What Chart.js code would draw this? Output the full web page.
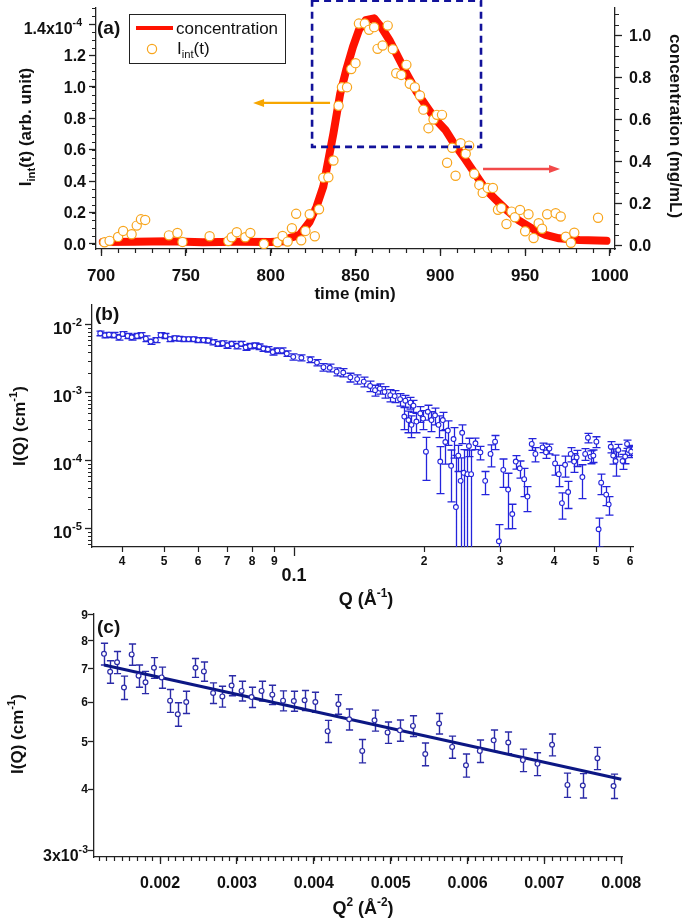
<!DOCTYPE html>
<html>
<head>
<meta charset="utf-8">
<script src="https://cdn.jsdelivr.net/npm/chart.js@4.4.1/dist/chart.umd.min.js"></script>
<style>
  body { margin: 0; background: #fff; overflow: hidden; }
  #wrap { position: relative; width: 685px; height: 920px; }
  #wrap canvas { position: absolute; left: 0; top: 0; }
</style>
</head>
<body>
<div id="wrap">
  <canvas id="chartA" width="685" height="920"></canvas>
  <canvas id="chartB" width="685" height="920"></canvas>
  <canvas id="chartC" width="685" height="920"></canvas>
</div>
<script>
// ---------- panel (a): elution profile ----------
const iintTime = [702, 705, 710, 713, 718, 721, 723.5, 726, 740, 745, 748, 764, 775, 777, 780, 785, 788, 796, 804, 807,
  810, 812.5, 815, 818, 820.5, 823, 826, 828.5, 831, 834, 837, 840, 842, 845, 847.5, 850, 852, 855.5, 858, 861,
  863, 866, 869, 872, 874, 877, 880, 882, 885, 888, 890, 893, 896, 898, 901, 904, 907, 909, 912, 915,
  917, 920, 923, 925, 928, 931, 934, 936, 939, 942, 944, 947, 950, 952, 955, 958, 960, 963, 968, 971,
  974, 977, 979, 993];
// Iint(t) in units of 1e-4 (arb. unit)
const iintValue = [0.011, 0.02, 0.045, 0.083, 0.062, 0.117, 0.157, 0.153, 0.055, 0.07, 0.013, 0.049, 0.019, 0.043, 0.075, 0.043, 0.07, 0.0, 0.011, 0.051,
  0.015, 0.1, 0.192, 0.023, 0.083, 0.189, 0.049, 0.221, 0.422, 0.425, 0.531, 0.88, 0.998, 0.998, 1.113, 1.151, 1.403, 1.403, 1.363, 1.38,
  1.242, 1.263, 1.39, 1.24, 1.087, 1.076, 1.14, 1.02, 0.998, 0.945, 0.855, 0.737, 0.792, 0.822, 0.822, 0.517, 0.612, 0.434, 0.641, 0.575,
  0.626, 0.447, 0.376, 0.325, 0.357, 0.357, 0.218, 0.229, 0.127, 0.206, 0.17, 0.217, 0.081, 0.189, 0.038, 0.132, 0.097, 0.189, 0.196, 0.175,
  0.046, 0.008, 0.072, 0.167];
const concTime = [701, 720, 740, 760, 780, 800, 808, 811, 817, 823, 827, 831, 834, 837, 841, 844.5, 848.5, 852, 856, 861,
  865, 870, 874, 880, 886, 892, 897.5, 903, 908, 915, 921, 927, 933, 939, 946, 954, 962, 970, 982, 998];
// concentration in mg/mL
const concValue = [0.014, 0.016, 0.018, 0.013, 0.015, 0.014, 0.018, 0.033, 0.048, 0.111, 0.182, 0.278, 0.405, 0.532, 0.722, 0.833, 0.944, 1.024, 1.071, 1.08,
  1.04, 0.976, 0.913, 0.818, 0.73, 0.659, 0.595, 0.548, 0.484, 0.405, 0.333, 0.262, 0.214, 0.167, 0.119, 0.079, 0.048, 0.032, 0.024, 0.02];
const aTimeTicks = [700, 750, 800, 850, 900, 950, 1000];
const aLeftTicks = [0, 0.2, 0.4, 0.6, 0.8, 1.0, 1.2, 1.4];
const aLeftLabels = ['0.0', '0.2', '0.4', '0.6', '0.8', '1.0', '1.2', '1.4x10'];
const aRightTicks = [0, 0.2, 0.4, 0.6, 0.8, 1.0];
const aRightLabels = ['0.0', '0.2', '0.4', '0.6', '0.8', '1.0'];

// annotations of panel (a), in data units
const zoomBox = { t0: 824.4, t1: 924.0, lo: 0.618, hi: 1.548 };
const orangeArrow = { from: 835, to: 789.6, level: 0.898 };   // on the Iint axis
const redArrow = { from: 925.2, to: 970.6, level: 0.362 };     // on the concentration axis

// ---------- panel (b): I(Q) ----------
const bQ = [0.0356, 0.0365, 0.0373, 0.0383, 0.0393, 0.0401, 0.0412, 0.0421, 0.0433, 0.0443,
  0.0454, 0.0466, 0.0479, 0.0491, 0.0504, 0.0516, 0.0530, 0.0542, 0.0556, 0.0570,
  0.0585, 0.0600, 0.0617, 0.0633, 0.0650, 0.0666, 0.0684, 0.0701, 0.0717, 0.0737,
  0.0754, 0.0773, 0.0791, 0.0811, 0.0831, 0.0849, 0.0870, 0.0893, 0.0915, 0.0938,
  0.0962, 0.0996, 0.104, 0.109, 0.113, 0.117, 0.121, 0.1255, 0.130, 0.135,
  0.140, 0.145, 0.150, 0.154, 0.158, 0.162, 0.167, 0.171, 0.176, 0.180,
  0.181, 0.184, 0.186, 0.187, 0.189, 0.192, 0.196, 0.199, 0.202, 0.204,
  0.208, 0.212, 0.216, 0.218, 0.221, 0.224, 0.227, 0.231, 0.234, 0.237,
  0.240, 0.243, 0.245, 0.247, 0.252, 0.254, 0.257, 0.263, 0.270, 0.277,
  0.285, 0.292, 0.298, 0.305, 0.313, 0.320, 0.326, 0.333, 0.341, 0.347,
  0.355, 0.362, 0.376, 0.383, 0.390, 0.402, 0.410, 0.417, 0.424, 0.431,
  0.437, 0.445, 0.451, 0.465, 0.472, 0.479, 0.486, 0.493, 0.501, 0.507,
  0.514, 0.528, 0.535, 0.541, 0.548, 0.555, 0.563, 0.576, 0.584, 0.590,
  0.595, 0.603];
const bI = [7.55e-3, 7.06e-3, 7.2e-3, 7.1e-3, 6.6e-3, 7.4e-3, 6.9e-3, 6.6e-3, 6.9e-3, 7.1e-3,
  6.3e-3, 5.7e-3, 6.0e-3, 7.1e-3, 6.9e-3, 6.2e-3, 6.4e-3, 6.3e-3, 6.2e-3, 6.2e-3,
  6.2e-3, 6.0e-3, 6.0e-3, 5.9e-3, 5.6e-3, 5.3e-3, 5.4e-3, 5.0e-3, 5.3e-3, 4.9e-3,
  5.3e-3, 4.7e-3, 4.9e-3, 5.0e-3, 4.8e-3, 4.5e-3, 4.4e-3, 4.0e-3, 4.2e-3, 4.2e-3,
  3.8e-3, 3.4e-3, 3.3e-3, 3.1e-3, 2.8e-3, 2.4e-3, 2.35e-3, 2.06e-3, 2.0e-3, 1.7e-3,
  1.6e-3, 1.47e-3, 1.27e-3, 1.1e-3, 1.16e-3, 1.04e-3, 9.3e-4, 9.0e-4, 8.1e-4, 4.5e-4,
  7.7e-4, 4.0e-4, 7.2e-4, 3.4e-4, 6.5e-4, 3.8e-4, 5.0e-4, 4.2e-4, 1.37e-4, 5.3e-4,
  4.0e-4, 4.7e-4, 3.4e-4, 9.8e-5, 4.0e-4, 1.9e-4, 2.8e-4, 8.5e-5, 2.1e-4, 2.1e-5,
  1.2e-4, 5.1e-5, 2.6e-4, 6.7e-5, 6.4e-5, 1.66e-4, 6.4e-5, 1.82e-4, 1.34e-4, 5.1e-5,
  1.27e-4, 1.92e-4, 6.6e-6, 7.4e-5, 3.8e-5, 1.66e-5, 9.8e-5, 7.8e-5, 5.4e-5, 3.0e-5,
  1.78e-4, 1.27e-4, 1.58e-4, 1.34e-4, 1.52e-4, 9.2e-5, 6.4e-5, 2.4e-5, 8.8e-5, 3.5e-5,
  1.27e-4, 9.8e-5, 1.13e-4, 5.8e-5, 1.27e-4, 2.2e-4, 1.16e-4, 1.2e-4, 1.92e-4, 9.9e-6,
  4.8e-5, 3.2e-5, 2.3e-5, 1.62e-4, 1.2e-4, 1.0e-4, 1.45e-4, 1.0e-4, 1.16e-4, 1.78e-4,
  1.45e-4, 1.37e-4];
const bErr = [6.0e-4, 6.0e-4, 6.0e-4, 6.5e-4, 6.0e-4, 6.0e-4, 6.0e-4, 6.0e-4, 6.0e-4, 6.0e-4,
  6.0e-4, 5.0e-4, 5.0e-4, 6.0e-4, 6.0e-4, 5.0e-4, 5.0e-4, 5.0e-4, 5.0e-4, 5.0e-4,
  5.0e-4, 5.0e-4, 5.0e-4, 5.0e-4, 5.0e-4, 4.5e-4, 4.5e-4, 4.5e-4, 4.5e-4, 4.5e-4,
  4.5e-4, 4.5e-4, 4.5e-4, 4.5e-4, 4.5e-4, 4.0e-4, 4.0e-4, 4.0e-4, 4.0e-4, 4.0e-4,
  3.5e-4, 3.5e-4, 3.3e-4, 3.0e-4, 3.0e-4, 3.0e-4, 3.0e-4, 2.8e-4, 2.8e-4, 2.5e-4,
  2.5e-4, 2.4e-4, 2.2e-4, 2.0e-4, 2.0e-4, 2.0e-4, 1.9e-4, 1.8e-4, 1.7e-4, 1.6e-4,
  1.5e-4, 1.4e-4, 1.4e-4, 1.2e-4, 1.3e-4, 1.2e-4, 1.3e-4, 1.3e-4, 8.5e-5, 1.3e-4,
  1.3e-4, 1.3e-4, 1.2e-4, 6.5e-5, 1.2e-4, 1.0e-4, 1.1e-4, 6.0e-5, 1.0e-4, 1.0e-4,
  5.0e-5, 6.0e-5, 8.0e-5, 8.0e-5, 8.0e-5, 5.0e-5, 8.0e-5, 3.5e-5, 3.0e-5, 1.9e-5,
  4.5e-5, 4.5e-5, 5.0e-6, 3.3e-5, 2.8e-5, 6.5e-6, 2.2e-5, 2.2e-5, 2.4e-5, 1.2e-5,
  3.5e-5, 3.0e-5, 2.5e-5, 2.5e-5, 2.5e-5, 3.0e-5, 2.2e-5, 1.0e-5, 3.0e-5, 1.5e-5,
  3.0e-5, 3.0e-5, 3.0e-5, 3.0e-5, 2.5e-5, 3.5e-5, 2.5e-5, 2.5e-5, 3.5e-5, 4.5e-6,
  1.6e-5, 1.0e-5, 7.0e-6, 3.0e-5, 3.0e-5, 4.0e-5, 3.0e-5, 2.5e-5, 2.5e-5, 2.5e-5,
  2.5e-5, 2.5e-5];
const bQTicks = [0.04, 0.05, 0.06, 0.07, 0.08, 0.09, 0.1, 0.2, 0.3, 0.4, 0.5, 0.6];
const bQLabels = ['4', '5', '6', '7', '8', '9', '0.1', '2', '3', '4', '5', '6'];
const bIDecades = [1e-2, 1e-3, 1e-4, 1e-5];
const bIExponents = ['-2', '-3', '-4', '-5'];

// ---------- panel (c): Guinier plot ----------
const cQ2 = [0.00127, 0.00135, 0.00144, 0.00153, 0.00163, 0.00172, 0.00181, 0.00192, 0.00202, 0.00213,
  0.00223, 0.00234, 0.00246, 0.00257, 0.00269, 0.00281, 0.00293, 0.00306, 0.00319, 0.00332,
  0.00346, 0.00360, 0.00374, 0.00388, 0.00402, 0.00418, 0.00432, 0.00446, 0.00463, 0.00479,
  0.00496, 0.00512, 0.00529, 0.00545, 0.00563, 0.00580, 0.00598, 0.00616, 0.00634, 0.00653,
  0.00672, 0.00691, 0.00710, 0.00730, 0.00750, 0.00769, 0.00790];
const cI = [7.51e-3, 6.91e-3, 7.22e-3, 6.42e-3, 7.49e-3, 6.78e-3, 6.58e-3, 7.04e-3, 6.73e-3, 6.04e-3,
  5.67e-3, 6.00e-3, 7.04e-3, 6.92e-3, 6.26e-3, 6.16e-3, 6.48e-3, 6.32e-3, 6.14e-3, 6.32e-3,
  6.21e-3, 6.04e-3, 6.03e-3, 6.05e-3, 6.00e-3, 5.24e-3, 5.94e-3, 5.54e-3, 4.78e-3, 5.51e-3,
  5.21e-3, 5.26e-3, 5.37e-3, 4.71e-3, 5.43e-3, 4.87e-3, 4.47e-3, 4.78e-3, 5.02e-3, 4.97e-3,
  4.58e-3, 4.50e-3, 4.92e-3, 4.08e-3, 4.07e-3, 4.62e-3, 4.06e-3];
const cErr = [3.8e-4, 3.6e-4, 3.7e-4, 3.5e-4, 3.7e-4, 3.5e-4, 3.4e-4, 3.4e-4, 3.3e-4, 3.2e-4,
  3.1e-4, 3.1e-4, 3.1e-4, 3.1e-4, 3.0e-4, 3.0e-4, 3.0e-4, 2.9e-4, 2.9e-4, 2.9e-4,
  2.8e-4, 2.8e-4, 2.8e-4, 2.8e-4, 2.8e-4, 2.7e-4, 2.7e-4, 2.7e-4, 2.6e-4, 2.7e-4,
  2.6e-4, 2.6e-4, 2.6e-4, 2.5e-4, 2.6e-4, 2.5e-4, 2.4e-4, 2.5e-4, 2.5e-4, 2.5e-4,
  2.4e-4, 2.4e-4, 2.5e-4, 2.3e-4, 2.3e-4, 2.4e-4, 2.3e-4];
const cFitQ2 = [0.00127, 0.0080];
const cFitI = [7.13e-3, 4.19e-3];
const cQ2Ticks = [0.002, 0.003, 0.004, 0.005, 0.006, 0.007, 0.008];
const cITicks = [3e-3, 4e-3, 5e-3, 6e-3, 7e-3, 8e-3, 9e-3];
const cILabels = ['3x10', '4', '5', '6', '7', '8', '9'];

// ---------- shared helpers ----------
const FONT = '"Liberation Sans", Arial, Helvetica, sans-serif';
const INK = '#111';
const AXIS = '#222';

// segments: [text, 'sup' | 'sub' | undefined]
function drawRich(ctx, segs, x, y, size, align, weight) {
  weight = weight || 'bold';
  const parts = segs.map(s => {
    const kind = s[1] || '';
    const fs = kind ? size * 0.66 : size;
    ctx.font = weight + ' ' + fs + 'px ' + FONT;
    return { text: s[0], kind: kind, fs: fs, w: ctx.measureText(s[0]).width };
  });
  const total = parts.reduce((a, p) => a + p.w, 0);
  let cx = align === 'right' ? x - total : (align === 'center' ? x - total / 2 : x);
  const base = y + size * 0.36;
  ctx.fillStyle = INK;
  ctx.textAlign = 'left';
  ctx.textBaseline = 'alphabetic';
  parts.forEach(p => {
    ctx.font = weight + ' ' + p.fs + 'px ' + FONT;
    let by = base;
    if (p.kind === 'sup') by = base - size * 0.48;
    if (p.kind === 'sub') by = base + size * 0.22;
    ctx.fillText(p.text, cx, by);
    cx += p.w;
  });
}

function drawRotated(ctx, segs, x, y, size, angle) {
  ctx.save();
  ctx.translate(x, y);
  ctx.rotate(angle);
  drawRich(ctx, segs, 0, 0, size, 'center');
  ctx.restore();
}

// minor tick marks on an axis, placed by the scale
function minorTicks(ctx, scale, values, len) {
  const area = scale.chart.chartArea;
  ctx.save();
  ctx.strokeStyle = AXIS;
  ctx.lineWidth = 1.2;
  ctx.beginPath();
  values.forEach(v => {
    if (v < scale.min || v > scale.max) return;
    const p = Math.round(scale.getPixelForValue(v)) + 0.5;
    if (scale.position === 'bottom') { ctx.moveTo(p, area.bottom); ctx.lineTo(p, area.bottom + len); }
    else if (scale.position === 'left') { ctx.moveTo(area.left - len, p); ctx.lineTo(area.left, p); }
    else { ctx.moveTo(area.right, p); ctx.lineTo(area.right + len, p); }
  });
  ctx.stroke();
  ctx.restore();
}

function axis(opts) {
  const ticks = opts.ticks;
  return Object.assign({
    grid: { display: true, drawOnChartArea: false, drawTicks: true, tickLength: opts.len || 7, tickColor: AXIS, tickWidth: 1.3 },
    border: { display: true, color: AXIS, width: 1.3 },
    ticks: { display: false },
    afterBuildTicks: s => { s.ticks = ticks.map(v => ({ value: v })); },
    afterFit: s => { if (s.isHorizontal()) s.height = 0; else s.width = 0; }
  }, opts.extra);
}

const errorBars = {
  id: 'errorBars',
  beforeDatasetsDraw(chart) {
    const { ctx, chartArea } = chart;
    chart.data.datasets.forEach((ds, i) => {
      if (!ds.errors) return;
      const meta = chart.getDatasetMeta(i);
      const ys = chart.scales[meta.yAxisID];
      ctx.save();
      ctx.beginPath();
      ctx.rect(chartArea.left, chartArea.top, chartArea.right - chartArea.left, chartArea.bottom - chartArea.top);
      ctx.clip();
      ctx.strokeStyle = ds.borderColor;
      ctx.lineWidth = ds.errorWidth || 1.3;
      const cap = ds.capHalf || 4;
      ctx.beginPath();
      meta.data.forEach((pt, j) => {
        const v = ds.data[j].y, e = ds.errors[j];
        const top = ys.getPixelForValue(v + e);
        const hasLow = v - e > 0;
        const bot = hasLow ? ys.getPixelForValue(v - e) : chartArea.bottom + 5;
        const x = Math.round(pt.x) + 0.5;
        ctx.moveTo(x, top); ctx.lineTo(x, bot);
        ctx.moveTo(x - cap, top); ctx.lineTo(x + cap, top);
        if (hasLow) { ctx.moveTo(x - cap, bot); ctx.lineTo(x + cap, bot); }
      });
      ctx.stroke();
      ctx.restore();
    });
  }
};

const baseOptions = {
  responsive: false,
  animation: false,
  events: [],
  plugins: { legend: { display: false }, tooltip: { enabled: false } }
};

function range(a, b, step) {
  const out = [];
  for (let v = a; v <= b + step / 1000; v += step) out.push(+v.toFixed(6));
  return out;
}

// ---------- chart (a) ----------
new Chart(document.getElementById('chartA'), {
  type: 'scatter',
  data: {
    datasets: [
      {
        label: 'Iint(t)',
        data: iintTime.map((t, i) => ({ x: t, y: iintValue[i] })),
        yAxisID: 'yL',
        pointStyle: 'circle',
        pointRadius: 4.6,
        pointBorderWidth: 1.2,
        pointBorderColor: '#f8a51c',
        pointBackgroundColor: '#ffffff',
        order: 0
      },
      {
        label: 'concentration',
        data: concTime.map((t, i) => ({ x: t, y: concValue[i] })),
        yAxisID: 'yR',
        showLine: true,
        borderColor: '#ff1200',
        borderWidth: 8,
        borderJoinStyle: 'round',
        borderCapStyle: 'round',
        pointRadius: 0,
        tension: 0,
        order: 1
      }
    ]
  },
  options: Object.assign({}, baseOptions, {
    layout: { padding: { left: 96, top: 8, right: 70, bottom: 671 } },
    scales: {
      x: axis({ ticks: aTimeTicks, extra: { type: 'linear', position: 'bottom', min: 697, max: 1003 } }),
      yL: axis({ ticks: aLeftTicks, extra: { type: 'linear', position: 'left', min: -0.032, max: 1.502 } }),
      yR: axis({ ticks: aRightTicks, extra: { type: 'linear', position: 'right', min: -0.019, max: 1.129 } })
    }
  }),
  plugins: [{
    id: 'panelA',
    afterDatasetsDraw(chart) {
      const { ctx } = chart;
      const x = chart.scales.x, yL = chart.scales.yL, yR = chart.scales.yR;
      // dashed zoom box
      ctx.save();
      ctx.strokeStyle = '#12129a';
      ctx.lineWidth = 2.6;
      ctx.setLineDash([7, 5]);
      const bx0 = x.getPixelForValue(zoomBox.t0), bx1 = x.getPixelForValue(zoomBox.t1);
      const by0 = yL.getPixelForValue(zoomBox.hi), by1 = yL.getPixelForValue(zoomBox.lo);
      ctx.strokeRect(bx0, by0, bx1 - bx0, by1 - by0);
      ctx.restore();
      // arrows
      const arrow = (x1, x2, y, color) => {
        const dir = Math.sign(x2 - x1);
        ctx.save();
        ctx.strokeStyle = color; ctx.fillStyle = color; ctx.lineWidth = 2.4;
        ctx.beginPath(); ctx.moveTo(x1, y); ctx.lineTo(x2 - dir * 8, y); ctx.stroke();
        ctx.beginPath(); ctx.moveTo(x2, y); ctx.lineTo(x2 - dir * 11, y - 4); ctx.lineTo(x2 - dir * 11, y + 4); ctx.closePath(); ctx.fill();
        ctx.restore();
      };
      arrow(x.getPixelForValue(orangeArrow.from), x.getPixelForValue(orangeArrow.to), yL.getPixelForValue(orangeArrow.level), '#f7a600');
      arrow(x.getPixelForValue(redArrow.from), x.getPixelForValue(redArrow.to), yR.getPixelForValue(redArrow.level), '#f24a4a');
    },
    afterDraw(chart) {
      const { ctx } = chart;
      const x = chart.scales.x, yL = chart.scales.yL, yR = chart.scales.yR;
      minorTicks(ctx, x, range(700, 1000, 10), 4);
      minorTicks(ctx, yL, range(0, 1.5, 0.05), 4);
      minorTicks(ctx, yR, range(0, 1.1, 0.05), 4);
      aTimeTicks.forEach(v => drawRich(ctx, [[String(v)]], x.getPixelForValue(v), 275, 17, 'center'));
      aLeftTicks.forEach((v, i) => {
        const segs = i === aLeftTicks.length - 1 ? [[aLeftLabels[i]], ['-4', 'sup']] : [[aLeftLabels[i]]];
        drawRich(ctx, segs, i === aLeftTicks.length - 1 ? 82 : 86, yL.getPixelForValue(v) + (i === aLeftTicks.length - 1 ? 4 : 0), 16, 'right');
      });
      aRightTicks.forEach((v, i) => drawRich(ctx, [[aRightLabels[i]]], 629, yR.getPixelForValue(v), 16, 'left'));
      drawRich(ctx, [['(a)']], 97, 27, 19, 'left');
      drawRich(ctx, [['time (min)']], 355, 293, 17, 'center');
      drawRotated(ctx, [['I'], ['int', 'sub'], ['(t) (arb. unit)']], 25, 127, 17, -Math.PI / 2);
      drawRotated(ctx, [['concentration (mg/mL)']], 676, 126, 17, Math.PI / 2);
      // legend
      ctx.save();
      ctx.fillStyle = '#fff';
      ctx.fillRect(129.5, 14.5, 156, 49);
      ctx.strokeStyle = '#222'; ctx.lineWidth = 1;
      ctx.strokeRect(129.5, 14.5, 156, 49);
      ctx.strokeStyle = '#ff1200'; ctx.lineWidth = 4;
      ctx.beginPath(); ctx.moveTo(136, 28); ctx.lineTo(173, 28); ctx.stroke();
      ctx.strokeStyle = '#f8a51c'; ctx.lineWidth = 1.2;
      ctx.beginPath(); ctx.arc(152, 49, 4.6, 0, Math.PI * 2); ctx.stroke();
      ctx.restore();
      drawRich(ctx, [['concentration']], 176, 28, 17, 'left', 'normal');
      drawRich(ctx, [['I'], ['int', 'sub'], ['(t)']], 177, 48, 17, 'left', 'normal');
    }
  }]
});

// ---------- chart (b) ----------
new Chart(document.getElementById('chartB'), {
  type: 'scatter',
  data: {
    datasets: [{
      label: 'I(Q)',
      data: bQ.map((q, i) => ({ x: q, y: bI[i] })),
      errors: bErr,
      yAxisID: 'y',
      borderColor: '#2424dc',
      errorWidth: 1.3,
      capHalf: 4,
      pointStyle: 'circle',
      pointRadius: 2.4,
      pointBorderWidth: 1.1,
      pointBorderColor: '#2424dc',
      pointBackgroundColor: '#ffffff'
    }]
  },
  options: Object.assign({}, baseOptions, {
    layout: { padding: { left: 92, top: 305, right: 52, bottom: 373 } },
    scales: {
      x: axis({ ticks: [0.1], len: 9, extra: { type: 'logarithmic', position: 'bottom', min: 0.03407, max: 0.609 } }),
      y: axis({ ticks: bIDecades, extra: { type: 'logarithmic', position: 'left', min: 5.43e-6, max: 0.01968 } })
    }
  }),
  plugins: [errorBars, {
    id: 'panelB',
    afterDraw(chart) {
      const { ctx } = chart;
      const x = chart.scales.x, y = chart.scales.y;
      minorTicks(ctx, x, bQTicks.filter(v => v !== 0.1), 5);
      const yMinor = [];
      [1e-6, 1e-5, 1e-4, 1e-3, 1e-2].forEach(d => { for (let k = 2; k <= 9; k++) yMinor.push(d * k); });
      minorTicks(ctx, y, yMinor, 4);
      bQTicks.forEach((v, i) => {
        if (v === 0.1) drawRich(ctx, [[bQLabels[i]]], x.getPixelForValue(v), 575, 18, 'center');
        else drawRich(ctx, [[bQLabels[i]]], x.getPixelForValue(v), 561, 12, 'center');
      });
      bIDecades.forEach((v, i) => drawRich(ctx, [['10'], [bIExponents[i], 'sup']], 82, y.getPixelForValue(v) + 3, 17, 'right'));
      drawRich(ctx, [['(b)']], 95, 313, 19, 'left');
      drawRich(ctx, [['Q (Å'], ['-1', 'sup'], [')']], 366, 599, 18, 'center');
      drawRotated(ctx, [['I(Q) (cm'], ['-1', 'sup'], [')']], 19, 426, 17, -Math.PI / 2);
    }
  }]
});

// ---------- chart (c) ----------
new Chart(document.getElementById('chartC'), {
  type: 'scatter',
  data: {
    datasets: [
      {
        label: 'I(Q)',
        data: cQ2.map((q, i) => ({ x: q, y: cI[i] })),
        errors: cErr,
        yAxisID: 'y',
        borderColor: '#2b2ba8',
        errorWidth: 1.4,
        capHalf: 3.6,
        pointStyle: 'circle',
        pointRadius: 2.4,
        pointBorderWidth: 1.2,
        pointBorderColor: '#2b2ba8',
        pointBackgroundColor: '#ffffff',
        order: 0
      },
      {
        label: 'Guinier fit',
        data: cFitQ2.map((q, i) => ({ x: q, y: cFitI[i] })),
        yAxisID: 'y',
        showLine: true,
        borderColor: '#0c1784',
        borderWidth: 3,
        pointRadius: 0,
        order: 1
      }
    ]
  },
  options: Object.assign({}, baseOptions, {
    layout: { padding: { left: 94, top: 614, right: 63, bottom: 63 } },
    scales: {
      x: axis({ ticks: cQ2Ticks, extra: { type: 'linear', position: 'bottom', min: 0.00114, max: 0.00801 } }),
      y: axis({ ticks: cITicks, len: 6, extra: { type: 'logarithmic', position: 'left', min: 2.917e-3, max: 9.04e-3 } })
    }
  }),
  plugins: [errorBars, {
    id: 'panelC',
    afterDraw(chart) {
      const { ctx } = chart;
      const x = chart.scales.x, y = chart.scales.y;
      minorTicks(ctx, x, range(0.0012, 0.008, 0.0001), 4);
      cQ2Ticks.forEach(v => drawRich(ctx, [[v.toFixed(3)]], x.getPixelForValue(v), 882, 16, 'center'));
      cITicks.forEach((v, i) => {
        if (i === 0) drawRich(ctx, [[cILabels[i]], ['-3', 'sup']], 88, y.getPixelForValue(v) + 4, 16, 'right');
        else drawRich(ctx, [[cILabels[i]]], 88, y.getPixelForValue(v), 12, 'right');
      });
      drawRich(ctx, [['(c)']], 97, 626, 19, 'left');
      drawRich(ctx, [['Q'], ['2', 'sup'], [' (Å'], ['-2', 'sup'], [')']], 363, 908, 18, 'center');
      drawRotated(ctx, [['I(Q) (cm'], ['-1', 'sup'], [')']], 17, 734, 17, -Math.PI / 2);
    }
  }]
});
</script>
</body>
</html>
